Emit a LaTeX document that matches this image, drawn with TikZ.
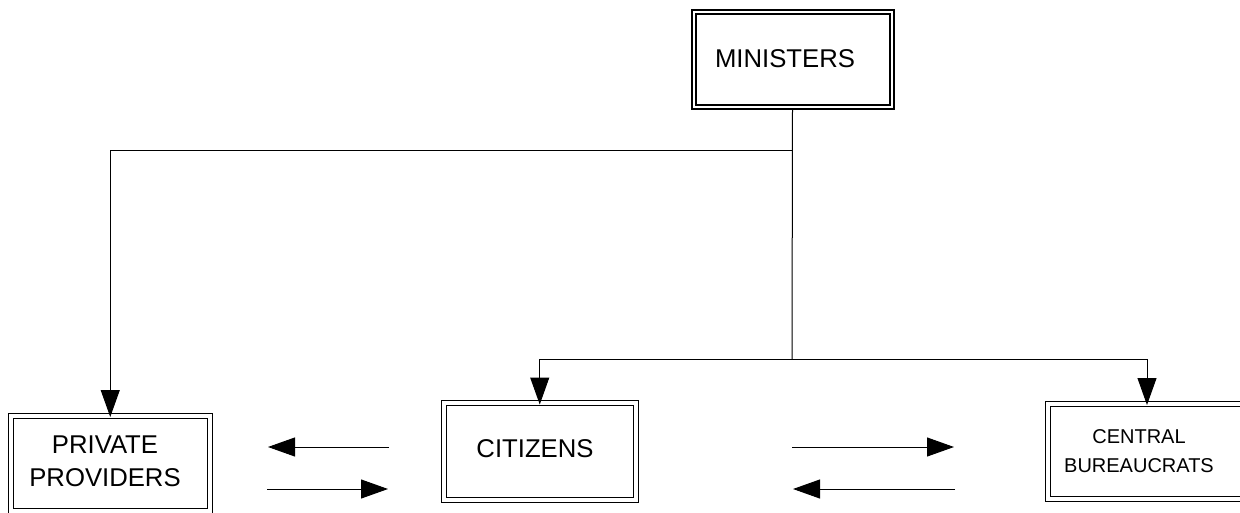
\documentclass[tikz,border=0pt]{standalone}
\usepackage{fontspec}
\setmainfont{Liberation Sans}
\usetikzlibrary{arrows.meta}
\begin{document}
\begin{tikzpicture}[x=1pt,y=-1pt,
  dbox/.style={draw, double, line width=1pt, double distance=4pt, rectangle, inner sep=0pt},
  mbox/.style={draw, double, line width=2pt, double distance=2pt, rectangle, inner sep=0pt},
  lbl/.style={align=center, inner sep=0pt, font=\fontsize{25.7pt}{33pt}\selectfont},
  slbl/.style={align=center, inner sep=0pt, font=\fontsize{20pt}{28.5pt}\selectfont},
  conn/.style={line width=1pt},
  arr/.style={line width=1pt, -{Triangle[length=27pt,width=19pt]}}]
\useasboundingbox (0,0) rectangle (1240,512);
% boxes
\node[mbox, minimum width=198pt, minimum height=95pt] (min) at (792.5,59.5) {};
\node[dbox, minimum width=198.5pt, minimum height=95.5pt] (pp) at (110.25,463.25) {};
\node[dbox, minimum width=192.5pt, minimum height=96.5pt] (cit) at (539.75,451.25) {};
\node[dbox, minimum width=198pt, minimum height=95.5pt] (cb) at (1147,451.25) {};
% texts
\node[lbl] (minT) at (785,59) {MINISTERS};
\node[lbl] (ppT) at (105,461.5) {PRIVATE\\PROVIDERS};
\node[lbl] (citT) at (535,448.5) {CITIZENS};
\node[slbl] (cbT) at (1139,451) {CENTRAL\\BUREAUCRATS};
% junctions
\coordinate (j1) at (792,150);
\coordinate (j2) at (792,359);
\draw[conn] (min.south) -- (j2);
\draw[arr] (j1) -| ([yshift=-2pt]pp.north);
\draw[arr] (j2) -| ([yshift=-2pt]cit.north);
\draw[arr] (j2) -| ([yshift=-2pt]cb.north);
% horizontal arrows
\coordinate (a1s) at (389,447); \coordinate (a1e) at (268,447);
\coordinate (a2s) at (267,489); \coordinate (a2e) at (388,489);
\coordinate (a3s) at (792,447); \coordinate (a3e) at (954,447);
\coordinate (a4s) at (955,489); \coordinate (a4e) at (793,489);
\draw[arr] (a1s) -- (a1e);
\draw[arr] (a2s) -- (a2e);
\draw[arr] (a3s) -- (a3e);
\draw[arr] (a4s) -- (a4e);
\end{tikzpicture}
\end{document}
